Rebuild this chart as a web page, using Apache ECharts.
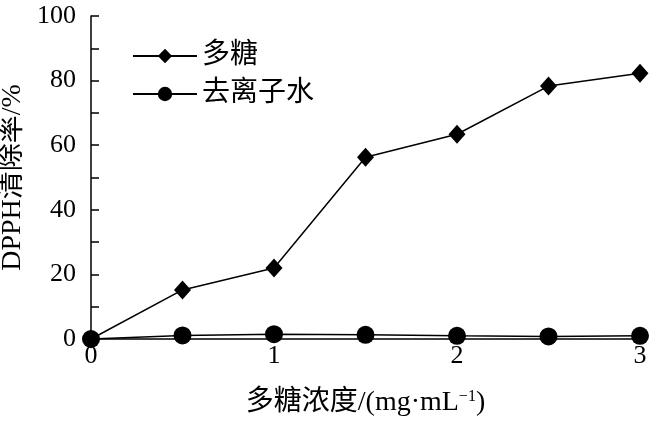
<!DOCTYPE html>
<html><head><meta charset="utf-8">
<script src="https://cdn.jsdelivr.net/npm/echarts@6/dist/echarts.min.js"></script>
<style>html,body{margin:0;padding:0;background:#fff}#c{width:650px;height:421px}</style>
</head><body><div id="c"></div>
<script>
const xValues = [0, 0.5, 1, 1.5, 2, 2.5, 3];
const polysaccharide = [0, 15.2, 22, 56.3, 63.4, 78.3, 82.3];
const water = [0, 1.1, 1.5, 1.3, 1.0, 0.8, 1.0];
const yTickLabels = [0, 20, 40, 60, 80, 100];
const xTickLabels = [0, 1, 2, 3];
const seriesNames = ['多糖', '去离子水'];

const serif = '"Liberation Serif","Times New Roman","Noto Sans CJK SC",serif';
const chart = echarts.init(document.getElementById('c'));
chart.setOption({
  animation: false,
  backgroundColor: '#fff',
  grid: {left: 91, right: 10, top: 16, bottom: 82, containLabel: false, outerBoundsMode: 'none'},
  legend: {
    left: 127, top: 37, orient: 'vertical', itemGap: 10,
    itemWidth: 64, itemHeight: 18,
    textStyle: {fontFamily: serif, fontSize: 28, color: '#000'},
    data: seriesNames
  },
  xAxis: {
    type: 'value', min: 0, max: 3, interval: 1,
    axisLine: {show: true, lineStyle: {color: '#000', width: 1.5}},
    axisTick: {show: false},
    splitLine: {show: false},
    axisLabel: {fontFamily: serif, fontSize: 26, color: '#000', margin: 4,
      formatter: v => xTickLabels.includes(v) ? String(v) : ''},
    name: '多糖浓度/(mg·mL{sup|−1})', nameLocation: 'middle', nameGap: 50,
    nameTextStyle: {fontFamily: serif, fontSize: 28, color: '#000',
      rich: {sup: {fontFamily: serif, fontSize: 16, color: '#000', verticalAlign: 'top', padding: [0,0,12,0]}}}
  },
  yAxis: {
    type: 'value', min: 0, max: 100, interval: 10,
    axisLine: {show: true, lineStyle: {color: '#000', width: 1.5}},
    axisTick: {show: true, inside: true, length: 8, lineStyle: {color: '#000', width: 1.5}},
    splitLine: {show: false},
    axisLabel: {fontFamily: serif, fontSize: 26, color: '#000', margin: 15,
      formatter: v => yTickLabels.includes(v) ? String(v) : ''},
    name: 'DPPH清除率/%', nameLocation: 'middle', nameGap: 64, nameRotate: 90,
    nameMoveOverlap: false,
    nameTextStyle: {fontFamily: serif, fontSize: 28, color: '#000'}
  },
  series: [
    {
      name: seriesNames[0], type: 'line', z: 3,
      data: xValues.map((x, i) => [x, polysaccharide[i]]),
      symbol: 'diamond', symbolSize: [17, 19], showSymbol: true,
      lineStyle: {color: '#000', width: 1.5}, itemStyle: {color: '#000'}
    },
    {
      name: seriesNames[1], type: 'line', z: 2,
      data: xValues.map((x, i) => [x, water[i]]),
      symbol: 'circle', symbolSize: 18,
      lineStyle: {color: '#000', width: 1.5}, itemStyle: {color: '#000'}
    }
  ]
});
</script></body></html>
